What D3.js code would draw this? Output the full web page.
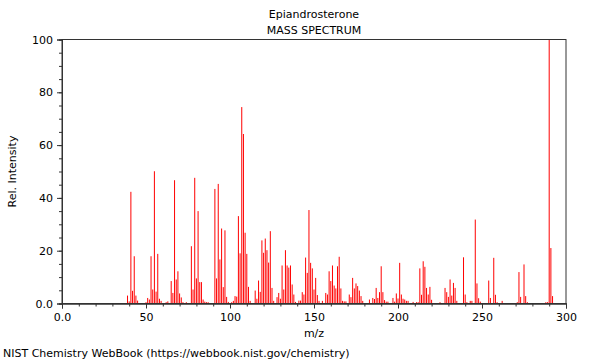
<!DOCTYPE html>
<html>
<head>
<meta charset="utf-8">
<script src="https://cdn.jsdelivr.net/npm/d3@7"></script>
<style>
  body { margin: 0; background: #fff; }
  text { font-family: "DejaVu Sans", sans-serif; fill: #000; }
</style>
</head>
<body>
<svg id="chart" width="600" height="360"></svg>
<script>
const title = "Epiandrosterone";
const subtitle = "MASS SPECTRUM";
const xLabel = "m/z";
const yLabel = "Rel. Intensity";
const footer = "NIST Chemistry WebBook (https://webbook.nist.gov/chemistry)";

const mz = [39,40,41,42,43,44,45,50,51,52,53,54,55,56,57,58,59,62,63,65,66,67,68,69,70,71,72,74,
  77,78,79,80,81,82,83,84,85,86,87,91,92,93,94,95,96,97,98,99,101,102,103,104,
  105,106,107,108,109,110,111,112,115,116,117,118,119,120,121,122,123,124,125,126,
  128,129,130,131,132,133,134,135,136,137,138,139,141,142,143,144,145,146,147,148,149,150,151,152,153,155,
  157,158,159,160,161,162,163,164,165,166,167,168,169,171,172,173,174,175,176,177,178,179,
  183,185,186,187,188,189,190,191,192,193,194,197,198,199,200,201,202,203,204,205,206,
  209,211,212,213,214,215,216,217,218,219,220,225,228,229,230,231,232,233,234,235,
  239,240,241,243,244,246,247,248,249,254,255,257,258,259,262,271,272,273,275,276,277,288,289,290,291,292];
const relIntensity = [3.0,0.8,42.3,4.8,17.9,3.0,1.1,0.5,2.1,1.5,17.9,5.3,50.1,4.5,18.8,1.8,1.0,0.5,0.8,8.5,4.0,46.7,9.1,12.2,3.8,2.3,0.5,0.5,
  21.7,5.3,47.6,9.5,35.0,8.1,8.1,1.5,0.7,0.5,0.5,43.4,9.5,45.3,16.7,28.4,6.2,27.7,2.5,0.6,0.5,1.0,2.8,2.6,
  33.1,19.0,74.4,64.2,26.8,18.8,6.3,1.0,4.9,1.8,8.7,4.4,23.9,19.2,24.6,20.2,15.5,27.4,5.9,1.0,
  2.4,4.0,1.8,14.4,5.3,20.2,14.4,13.6,14.4,7.2,3.4,0.6,1.1,1.1,4.3,3.4,17.4,11.6,35.4,15.4,13.3,5.3,9.7,3.2,1.0,1.0,
  4.0,3.4,12.2,8.5,14.4,6.8,5.7,14.1,17.7,5.7,1.0,0.8,0.8,3.4,2.4,9.7,5.7,7.6,6.6,4.9,2.8,1.0,
  1.5,2.1,1.7,5.9,2.1,4.3,14.1,4.3,1.3,0.7,0.7,2.1,0.7,3.8,1.9,15.4,3.4,1.8,1.5,1.0,1.0,
  0.6,0.5,0.5,13.3,3.3,16.0,13.9,5.9,3.4,6.3,1.4,0.5,5.9,4.3,2.5,9.1,3.0,7.8,5.9,1.0,
  17.5,3.4,0.5,1.0,1.0,31.8,7.6,2.0,0.7,8.7,2.1,17.3,3.3,0.5,1.0,0.5,11.9,2.5,14.8,2.8,0.5,0.5,0.5,100,21.0,2.8];

const xMajorTicks = [0,50,100,150,200,250,300];
const xTickLabels = ["0.0","50","100","150","200","250","300"];
const yMajorTicks = [0,20,40,60,80,100];
const yTickLabels = ["0.0","20","40","60","80","100"];

const peaks = mz.map((m, i) => ({ m, v: relIntensity[i] }));

const svg = d3.select("#chart");
const plotLeft = 62, plotRight = 566, plotTop = 39.5, plotBottom = 303.5;

const x = d3.scaleLinear().domain([0, 300]).range([plotLeft, plotRight]);
const y = d3.scaleLinear().domain([0, 100]).range([plotBottom, plotTop]);

svg.append("rect").attr("width", 600).attr("height", 360).attr("fill", "#fff");

// bars
svg.append("g").selectAll("line").data(peaks).join("line")
  .attr("x1", d => x(d.m)).attr("x2", d => x(d.m))
  .attr("y1", y(0)).attr("y2", d => y(d.v))
  .attr("stroke", "#ff0000").attr("stroke-width", 1);

// frame
svg.append("rect")
  .attr("x", plotLeft).attr("y", plotTop)
  .attr("width", plotRight - plotLeft).attr("height", plotBottom - plotTop)
  .attr("fill", "none").attr("stroke", "#333").attr("stroke-width", 1);

// x axis
const xMinor = d3.range(0, 301, 10);
const xAxisMinor = d3.axisBottom(x).tickValues(xMinor).tickSize(3).tickFormat("");
const gxm = svg.append("g").attr("transform", `translate(0,${plotBottom})`).call(xAxisMinor);
const xAxis = d3.axisBottom(x).tickValues(xMajorTicks).tickSize(5)
  .tickFormat((d, i) => xTickLabels[i]);
const gx = svg.append("g").attr("transform", `translate(0,${plotBottom})`).call(xAxis);

// y axis
const yMinor = d3.range(0, 101, 5);
const yAxisMinor = d3.axisLeft(y).tickValues(yMinor).tickSize(3).tickFormat("");
const gym = svg.append("g").attr("transform", `translate(${plotLeft},0)`).call(yAxisMinor);
const yAxis = d3.axisLeft(y).tickValues(yMajorTicks).tickSize(5)
  .tickFormat((d, i) => yTickLabels[i]);
const gy = svg.append("g").attr("transform", `translate(${plotLeft},0)`).call(yAxis);

[gxm, gx, gym, gy].forEach(g => {
  g.select(".domain").attr("stroke", "#333");
  g.selectAll(".tick line").attr("stroke", "#333");
  g.selectAll(".tick text").attr("font-family", "DejaVu Sans, sans-serif")
    .attr("font-size", 11).attr("fill", "#000");
});
gx.selectAll(".tick text").attr("dy", "0.9em");
gy.selectAll(".tick text").attr("dx", "-1");

// titles
svg.append("text").attr("x", 314).attr("y", 18).attr("text-anchor", "middle")
  .attr("font-size", 11).text(title);
svg.append("text").attr("x", 314).attr("y", 34).attr("text-anchor", "middle")
  .attr("font-size", 11).text(subtitle);
svg.append("text").attr("x", 314).attr("y", 337).attr("text-anchor", "middle")
  .attr("font-size", 11).text(xLabel);
svg.append("text").attr("transform", `translate(16,${(plotTop + plotBottom) / 2}) rotate(-90)`)
  .attr("text-anchor", "middle").attr("font-size", 11).text(yLabel);
svg.append("text").attr("x", 3).attr("y", 357).attr("font-size", 11).text(footer);
</script>
</body>
</html>
